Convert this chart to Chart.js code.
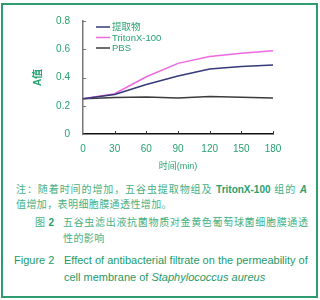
<!DOCTYPE html>
<html>
<head>
<meta charset="utf-8">
<script src="https://cdn.jsdelivr.net/npm/chart.js@4.4.1/dist/chart.umd.min.js"></script>
<style>
  html, body { margin: 0; padding: 0; background: #fff; }
  body { width: 320px; height: 300px; position: relative; overflow: hidden; font-family: "Liberation Sans", "Noto Sans CJK SC", sans-serif; }
  .frame { position: absolute; left: 1px; top: 3px; width: 317px; height: 295px; box-sizing: border-box; border: 2px solid #2e9c70; }
  #chartBox { position: absolute; left: 0; top: 0; width: 320px; height: 175px; }
  .cn { position: absolute; font-size: 10px; line-height: 12px; color: #45b07f; white-space: nowrap; letter-spacing: 0.4px; }
  .cn b { font-family: "Liberation Sans", sans-serif; font-weight: bold; color: #2a9f6d; letter-spacing: 0; }
  .just { text-align: justify; text-align-last: justify; letter-spacing: 0; }
  .en { position: absolute; font-size: 11px; line-height: 13px; color: #1e9a68; white-space: nowrap; }
</style>
</head>
<body>
<div class="frame"></div>
<div id="chartBox"><canvas id="lineChart" width="320" height="175"></canvas></div>

<div class="cn just" style="left:16px; top:184px; width:291px;">注：随着时间的增加，五谷虫提取物组及 <b>TritonX-100</b> 组的 <b><i>A</i></b></div>
<div class="cn" style="left:16px; top:199px;">值增加，表明细胞膜通透性增加。</div>
<div class="cn" style="left:35px; top:217px;">图 <b>2</b></div>
<div class="cn just" style="left:63px; top:217px; width:245px;">五谷虫滤出液抗菌物质对金黄色葡萄球菌细胞膜通透</div>
<div class="cn" style="left:63px; top:233px;">性的影响</div>
<div class="en" style="left:14px; top:254px;">Figure 2</div>
<div class="en" style="left:64px; top:254px;">Effect of antibacterial filtrate on the permeability of</div>
<div class="en" style="left:64px; top:271px;">cell membrane of <i>Staphylococcus aureus</i></div>

<script>
// Chart data
const times = ['0', '30', '60', '90', '120', '150', '180'];
const seriesNames = ['提取物', 'TritonX-100', 'PBS'];
const extractValues = [0.25, 0.28, 0.35, 0.41, 0.46, 0.478, 0.488];
const tritonValues = [0.25, 0.285, 0.405, 0.5, 0.548, 0.572, 0.59];
const pbsValues = [0.25, 0.258, 0.262, 0.255, 0.266, 0.26, 0.255];
const yTicks = [0, 0.2, 0.4, 0.6, 0.8];

const green = '#27a271';
const lineColors = ['#353a78', '#ee68e0', '#3c3c3c'];

// small inward tick marks on both axes
const innerTicks = {
    id: 'innerTicks',
    afterDraw(chart) {
        const c = chart.ctx;
        const xs = chart.scales.x, ys = chart.scales.y;
        c.save();
        c.lineWidth = 1;
        c.strokeStyle = '#333';
        times.forEach((t, i) => {
            if (i === 0) return;
            const px = Math.round(xs.getPixelForValue(i)) + 0.5;
            c.beginPath();
            c.moveTo(px, ys.bottom);
            c.lineTo(px, ys.bottom - 3);
            c.stroke();
        });
        c.strokeStyle = '#777';
        yTicks.forEach(v => {
            if (v === 0) return;
            const py = Math.round(ys.getPixelForValue(v)) + 0.5;
            c.beginPath();
            c.moveTo(xs.left, py);
            c.lineTo(xs.left + 3, py);
            c.stroke();
        });
        c.restore();
    }
};

// legend inside the plot, top left
const inlineLegend = {
    id: 'inlineLegend',
    afterDraw(chart) {
        const c = chart.ctx;
        const area = chart.chartArea;
        const rows = [27, 37.5, 48];
        c.save();
        c.font = '9.5px "Liberation Sans", "Noto Sans CJK SC", sans-serif';
        c.textBaseline = 'middle';
        chart.data.datasets.forEach((ds, i) => {
            const y = rows[i];
            const x0 = area.left + 13;
            c.strokeStyle = ds.borderColor;
            c.lineWidth = 1.5;
            c.beginPath();
            c.moveTo(x0, y);
            c.lineTo(x0 + 14, y);
            c.stroke();
            c.fillStyle = green;
            c.fillText(ds.label, x0 + 16, y + 0.5);
        });
        c.restore();
    }
};

const ctx = document.getElementById('lineChart').getContext('2d');
new Chart(ctx, {
    type: 'line',
    data: {
        labels: times,
        datasets: [
            { label: seriesNames[0], data: extractValues, borderColor: lineColors[0] },
            { label: seriesNames[1], data: tritonValues, borderColor: lineColors[1] },
            { label: seriesNames[2], data: pbsValues, borderColor: lineColors[2] }
        ]
    },
    options: {
        responsive: false,
        animation: false,
        layout: { padding: { left: 0, right: 47, top: 21, bottom: 0 } },
        elements: {
            line: { borderWidth: 1.5, tension: 0 },
            point: { radius: 0 }
        },
        plugins: {
            legend: { display: false },
            tooltip: { enabled: false }
        },
        scales: {
            x: {
                grid: { display: false },
                border: { display: true, color: '#111', width: 1.5 },
                ticks: { color: green, padding: 1, font: { family: '"Liberation Sans", sans-serif', size: 10 } },
                title: {
                    display: true, text: '时间(min)', color: green,
                    font: { family: '"Liberation Sans", "Noto Sans CJK SC", sans-serif', size: 9 },
                    padding: { top: 0, bottom: 3 }
                },
                afterFit: (s) => { s.height = 41; }
            },
            y: {
                min: 0, max: 0.8,
                grid: { display: false },
                border: { display: true, color: '#777', width: 1.5 },
                ticks: {
                    stepSize: 0.2, color: green, padding: 5,
                    font: { family: '"Liberation Sans", sans-serif', size: 10 },
                    callback: (v) => v === 0 ? '0' : v.toFixed(1)
                },
                title: {
                    display: true, text: 'A值', color: green,
                    font: { family: '"Liberation Sans", "Noto Sans CJK SC", sans-serif', size: 10, weight: 'bold' },
                    padding: { top: 32, bottom: 0 }
                },
                afterFit: (s) => { s.width = 83; }
            }
        }
    },
    plugins: [innerTicks, inlineLegend]
});
</script>
</body>
</html>
